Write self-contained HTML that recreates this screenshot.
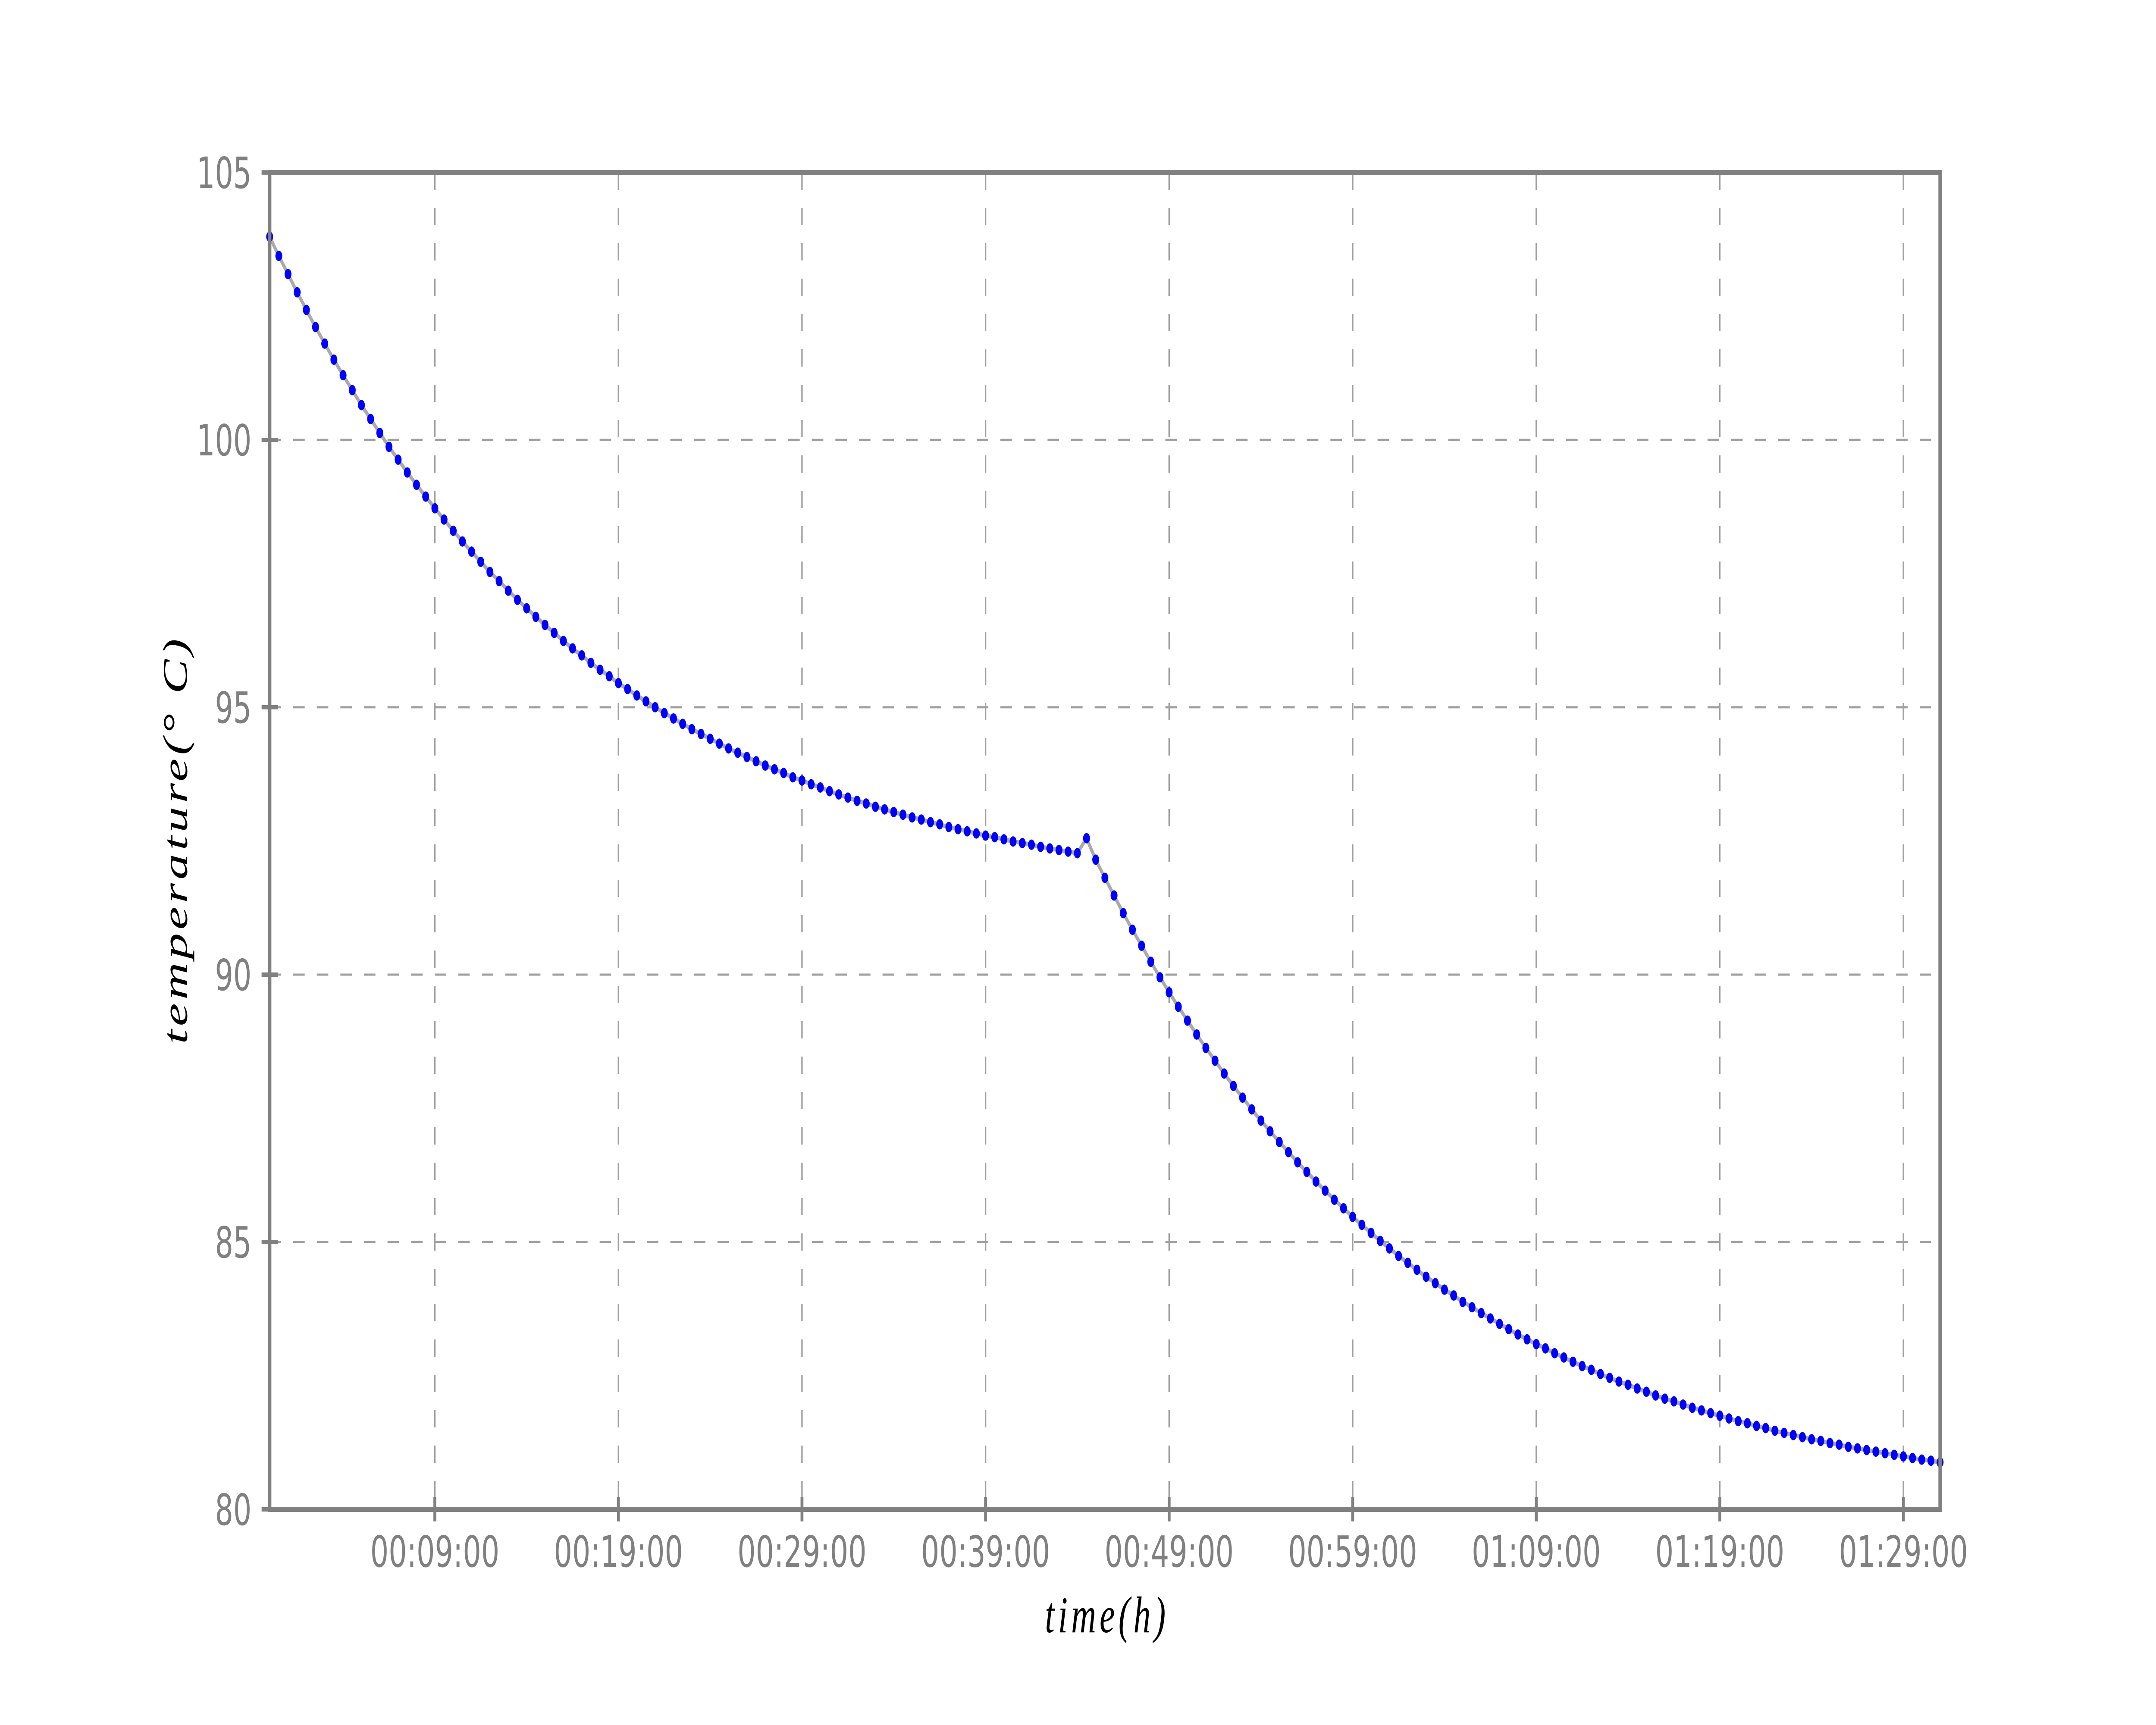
<!DOCTYPE html>
<html><head><meta charset="utf-8"><style>
html,body{margin:0;padding:0;background:#fff;width:100%;height:100%;overflow:hidden;}
svg{display:block;width:100vw;height:100vh;}
</style></head><body>
<svg id="chart" viewBox="0 0 7500 4000" preserveAspectRatio="none" xmlns="http://www.w3.org/2000/svg">
<rect x="0" y="0" width="7500" height="4000" fill="#fff"/>
<g id="grid"></g>
<g id="series"></g>
<g id="axes"></g>
<text x="3845" y="3785" text-anchor="middle" font-family="Liberation Serif, serif" font-style="italic" font-size="120" textLength="420" fill="#000">time(h)</text>
<text transform="translate(650,1951) rotate(-90)" text-anchor="middle" font-family="Liberation Serif, serif" font-style="italic" font-size="120" textLength="940" fill="#000">temperature(° C)</text>
</svg>
<script>
const xTickMinutes = [9, 19, 29, 39, 49, 59, 69, 79, 89];
const xTickLabels = ["00:09:00","00:19:00","00:29:00","00:39:00","00:49:00","00:59:00","01:09:00","01:19:00","01:29:00"];
const yTicks = [80, 85, 90, 95, 100, 105];
const sampleStepMinutes = 0.5;
const temperatures = [
103.80,103.44,103.10,102.76,102.43,102.11,101.80,101.50,101.21,100.93,
100.65,100.39,100.13,99.87,99.63,99.39,99.16,98.94,98.72,98.51,
98.30,98.10,97.91,97.72,97.53,97.36,97.18,97.01,96.85,96.69,
96.54,96.39,96.24,96.10,95.97,95.83,95.70,95.58,95.45,95.34,
95.22,95.11,95.00,94.89,94.79,94.69,94.59,94.50,94.41,94.32,
94.23,94.15,94.07,93.99,93.91,93.84,93.77,93.69,93.63,93.56,
93.50,93.43,93.37,93.31,93.25,93.20,93.14,93.09,93.04,92.99,
92.94,92.90,92.85,92.81,92.76,92.72,92.68,92.64,92.60,92.57,
92.53,92.49,92.46,92.43,92.39,92.36,92.33,92.30,92.27,92.55,
92.15,91.81,91.48,91.15,90.84,90.54,90.24,89.95,89.67,89.40,
89.14,88.88,88.63,88.39,88.15,87.92,87.70,87.48,87.27,87.07,
86.87,86.68,86.49,86.31,86.13,85.96,85.79,85.63,85.47,85.32,
85.17,85.02,84.88,84.74,84.61,84.48,84.35,84.23,84.11,84.00,
83.88,83.78,83.67,83.57,83.47,83.37,83.27,83.18,83.09,83.01,
82.92,82.84,82.76,82.68,82.61,82.53,82.46,82.39,82.33,82.26,
82.20,82.13,82.07,82.02,81.96,81.90,81.85,81.80,81.75,81.70,
81.65,81.61,81.56,81.52,81.47,81.43,81.39,81.35,81.31,81.28,
81.24,81.21,81.17,81.14,81.11,81.08,81.05,81.02,80.99,80.96,
80.93,80.91,80.88
];
const X0=938, X1=6749, Y0=400, Y1=3500;
const xMin=0, xMax=91, yMin=80, yMax=105;
const NS='http://www.w3.org/2000/svg';
function sx(m){return X0+(m-xMin)/(xMax-xMin)*(X1-X0);}
function sy(v){return Y1-(v-yMin)/(yMax-yMin)*(Y1-Y0);}
function mk(tag,attrs,parent){const e=document.createElementNS(NS,tag);for(const k in attrs)e.setAttribute(k,attrs[k]);parent.appendChild(e);return e;}
const grid=document.getElementById('grid'), series=document.getElementById('series'), axes=document.getElementById('axes');
const gridStyle={stroke:'#a0a0a0','stroke-width':5,'stroke-dasharray':'40 42',fill:'none'};
xTickMinutes.forEach((m,i)=>{
  const g=mk('line',Object.assign({x1:sx(m),x2:sx(m),y1:Y0,y2:Y1},gridStyle),grid);
  
  
  const t=mk('line',{x1:sx(m),x2:sx(m),y1:Y1-28,y2:Y1+28,stroke:'#808080','stroke-width':10},axes);
  
  
  const l=mk('text',{x:sx(m),y:3633,'text-anchor':'middle','font-family':'DejaVu Sans, Liberation Sans, sans-serif','font-size':100,fill:'#808080'},axes);
  l.textContent=xTickLabels[i];
  
  
});
yTicks.forEach(v=>{
  const g=mk('line',Object.assign({x1:X0,x2:X1,y1:sy(v),y2:sy(v)},gridStyle),grid);
  
  
  const t=mk('line',{x1:X0-28,x2:X0+28,y1:sy(v),y2:sy(v),stroke:'#808080','stroke-width':10},axes);
  
  
  const l=mk('text',{x:875,y:sy(v)+36,'text-anchor':'end','font-family':'DejaVu Sans, Liberation Sans, sans-serif','font-size':100,fill:'#808080'},axes);
  l.textContent=String(v);
  
  
});
const frame=mk('rect',{x:X0,y:Y0,width:X1-X0,height:Y1-Y0,fill:'none',stroke:'#808080','stroke-width':12},axes);


const pts=temperatures.map((v,i)=>sx(i*sampleStepMinutes).toFixed(1)+','+sy(v).toFixed(1)).join(' ');
const line=mk('polyline',{points:pts,fill:'none',stroke:'#aaaaaa','stroke-width':10,'stroke-linejoin':'round'},series);


temperatures.forEach((v,i)=>{
  const c=mk('circle',{cx:sx(i*sampleStepMinutes),cy:sy(v),r:12,fill:'#0000ff'},series);
  
  
});
</script>
</body></html>
